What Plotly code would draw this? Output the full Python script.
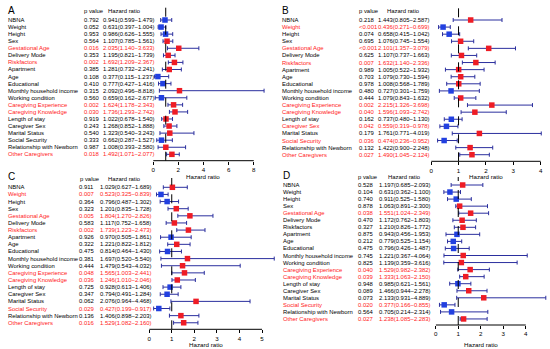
import plotly.graph_objects as go

labels = ["NBNA", "Weight", "Height", "Sex", "Gestational Age", "Delivery Mode", "Riskfactors",
          "Apartment", "Age", "Educational", "Monthly household income", "Working condition",
          "Caregiving Experience", "Caregiving Knowledge", "Length of stay", "Caregiver Sex",
          "Marital Status", "Social Security", "Relationship with Newborn", "Other Caregivers"]

A_p = ["0.792", "0.052", "0.953", "0.564", "0.016", "0.353", "0.002", "0.385", "0.108", "0.410",
       "0.315", "0.560", "0.002", "0.030", "0.919", "0.243", "0.540", "0.333", "0.987", "0.018"]
A_hr = [0.941, 0.631, 0.986, 1.107, 2.035, 1.195, 1.692, 1.281, 0.377, 0.777,
        2.092, 0.659, 1.624, 1.736, 1.022, 1.268, 1.323, 0.662, 1.008, 1.492]
A_lo = [0.599, 0.397, 0.626, 0.785, 1.140, 0.821, 1.209, 0.732, 0.115, 0.427,
        0.496, 0.162, 1.178, 1.293, 0.678, 0.852, 0.540, 0.287, 0.393, 1.071]
A_hi = [1.479, 1.004, 1.555, 1.561, 3.633, 1.739, 2.367, 2.241, 1.237, 1.416,
        8.818, 2.677, 2.343, 2.742, 1.540, 1.888, 3.243, 1.527, 2.580, 2.077]

B_p = ["0.218", "<0.001", "0.074", "0.695", "<0.001", "0.625", "0.007", "0.989", "0.703", "0.978",
       "0.480", "0.444", "0.002", "0.040", "0.162", "0.042", "0.179", "0.036", "0.132", "0.027"]
B_hr = [1.443, 0.436, 0.658, 1.076, 2.101, 1.107, 1.632, 1.005, 1.079, 1.008,
        0.727, 1.079, 2.215, 1.596, 0.737, 0.559, 1.761, 0.474, 1.422, 1.490]
B_lo = [0.805, 0.271, 0.415, 0.745, 1.357, 0.737, 1.140, 0.522, 0.730, 0.568,
        0.301, 0.843, 1.326, 1.093, 0.480, 0.319, 0.771, 0.236, 0.900, 1.045]
B_hi = [2.587, 0.699, 1.042, 1.554, 3.079, 1.663, 2.336, 1.932, 1.594, 1.789,
        1.759, 1.632, 3.698, 2.742, 1.130, 0.978, 4.019, 0.952, 2.248, 2.124]

C_p = ["0.911", "0.007", "0.364", "0.323", "0.005", "0.583", "0.002", "0.926", "0.322", "0.475",
       "0.381", "0.444", "0.048", "0.036", "0.725", "0.347", "0.062", "0.029", "0.136", "0.016"]
C_hr = [1.029, 0.523, 0.796, 1.201, 1.804, 1.117, 1.739, 0.970, 1.221, 0.814,
        1.697, 1.479, 1.565, 1.246, 0.928, 0.794, 2.076, 0.427, 1.406, 1.529]
C_lo = [0.627, 0.325, 0.487, 0.835, 1.270, 0.752, 1.223, 0.505, 0.822, 0.464,
        0.520, 0.543, 1.003, 1.010, 0.613, 0.491, 0.964, 0.199, 0.898, 1.082]
C_hi = [1.689, 0.839, 1.302, 1.728, 2.826, 1.658, 2.473, 1.861, 1.812, 1.430,
        5.540, 4.032, 2.441, 2.046, 1.406, 1.284, 4.468, 0.917, 2.203, 2.160]

D_p = ["0.528", "0.104", "0.740", "0.878", "0.038", "0.470", "0.327", "0.875", "0.212", "0.475",
       "0.745", "0.825", "0.040", "0.039", "0.948", "0.089", "0.073", "0.020", "0.564", "0.027"]
D_hr = [1.197, 0.631, 0.911, 1.063, 1.551, 1.172, 1.210, 0.943, 0.779, 0.796,
        1.221, 1.139, 1.529, 1.333, 0.985, 1.466, 2.133, 0.377, 0.705, 1.238]
D_lo = [0.685, 0.362, 0.525, 0.891, 1.024, 0.762, 0.826, 0.456, 0.525, 0.426,
        0.367, 0.359, 0.982, 1.063, 0.621, 0.944, 0.931, 0.166, 0.214, 1.085]
D_hi = [2.093, 1.100, 1.580, 2.300, 2.349, 1.803, 1.772, 1.953, 1.154, 1.487,
        4.064, 3.616, 2.382, 2.150, 1.561, 2.278, 4.889, 0.855, 2.314, 2.283]

x_ticks = {"A": [0, 2, 4, 6, 8], "B": [0, 1, 2, 3, 4], "C": [0, 1, 2, 3, 4, 5], "D": [0, 1, 2, 3, 4]}

W, H = 550, 349
FONT = "Liberation Sans, Arial, sans-serif"
RED_TXT = "#ff1a1a"
RED_MK = "#ee1c25"
BLUE_MK = "#2240e0"
WHISK = "#2b2f9e"
TXT_SIZE = 5.9

# layout geometry (pixels)
geo = {
    "A": dict(x0=151.7, unit=12.625, xmax=8.9, axis_end=8, first=20.0, step=7.07, top=7, bottom=160.7,
              lab=4, pcol=80, hcol=99, hp=80, hh=104, hy=11, lx=4, ly=10, title_y=176),
    "B": dict(x0=430.7, unit=27.5, xmax=4.1, axis_end=4, first=20.0, step=7.09, top=7, bottom=161.3,
              lab=279, pcol=356, hcol=375.7, hp=356, hh=384, hy=11, lx=279, ly=10, title_y=176.5),
    "C": dict(x0=147.7, unit=22.66, xmax=5.6, axis_end=5, first=187.3, step=7.13, top=178, bottom=329.3,
              lab=4, pcol=75, hcol=96.7, hp=76, hh=104, hy=179, lx=4, ly=176, title_y=344),
    "D": dict(x0=435.3, unit=22.6, xmax=4.95, axis_end=4, first=185.0, step=7.05, top=177, bottom=325,
              lab=280, pcol=355, hcol=376.7, hp=355, hh=385, hy=177, lx=280, ly=175, title_y=344),
}

data = {"A": (A_p, A_hr, A_lo, A_hi), "B": (B_p, B_hr, B_lo, B_hi),
        "C": (C_p, C_hr, C_lo, C_hi), "D": (D_p, D_hr, D_lo, D_hi)}


def sig(p):
    return p.startswith("<") or float(p) < 0.05


fig = go.Figure()
annotations = []
shapes = []
layout_axes = {}

for k, key in enumerate(["A", "B", "C", "D"]):
    g = geo[key]
    p, hr, lo, hi = data[key]
    n = k + 1
    xa = "x" if n == 1 else f"x{n}"
    ya = "y" if n == 1 else f"y{n}"
    xname = "xaxis" if n == 1 else f"xaxis{n}"
    yname = "yaxis" if n == 1 else f"yaxis{n}"
    rows = list(range(len(labels)))

    fig.add_trace(go.Scatter(
        x=hr, y=rows, xaxis=xa, yaxis=ya, mode="markers",
        marker=dict(symbol="square", size=5.5,
                    color=[RED_MK if v >= 1 else BLUE_MK for v in hr], line=dict(width=0)),
        error_x=dict(type="data", symmetric=False,
                     array=[h - v for h, v in zip(hi, hr)],
                     arrayminus=[v - l for v, l in zip(hr, lo)],
                     color=WHISK, thickness=1, width=2),
        cliponaxis=False, showlegend=False, hoverinfo="skip"))

    x_dom_end = g["x0"] + g["xmax"] * g["unit"]
    layout_axes[xname] = dict(
        domain=[g["x0"] / W, min(x_dom_end / W, 1.0)], range=[0, g["xmax"]], anchor=ya,
        showgrid=False, zeroline=False, showline=False, fixedrange=True,
        tickmode="array", tickvals=x_ticks[key], ticks="outside", ticklen=3, tickwidth=1,
        tickcolor="black", tickfont=dict(size=6.2, family=FONT, color="black"))
    ytop = (g["top"] - g["first"]) / g["step"]
    ybot = (g["bottom"] - g["first"]) / g["step"]
    layout_axes[yname] = dict(
        domain=[1 - g["bottom"] / H, 1 - g["top"] / H], range=[ybot, ytop], anchor=xa,
        visible=False, showgrid=False, zeroline=False, fixedrange=True)

    # reference line and axis baseline
    shapes.append(dict(type="line", xref=xa, yref=f"{ya} domain", x0=1, x1=1, y0=0, y1=1,
                       line=dict(color="black", width=1, dash="dash")))
    shapes.append(dict(type="line", xref=xa, yref=f"{ya} domain", x0=0, x1=g["axis_end"], y0=0, y1=0,
                       line=dict(color="black", width=1)))

    for i, lab in enumerate(labels):
        col = RED_TXT if sig(p[i]) else "black"
        f = dict(size=TXT_SIZE, family=FONT, color=col)
        annotations.append(dict(text=lab, x=g["lab"] / W, y=i, xref="paper", yref=ya,
                                xanchor="left", yanchor="middle", showarrow=False, font=f))
        annotations.append(dict(text=p[i], x=g["pcol"] / W, y=i, xref="paper", yref=ya,
                                xanchor="left", yanchor="middle", showarrow=False, font=f))
        txt = f"{hr[i]:.3f}({lo[i]:.3f}\u2212{hi[i]:.3f})"
        annotations.append(dict(text=txt, x=g["hcol"] / W, y=i, xref="paper", yref=ya,
                                xanchor="left", yanchor="middle", showarrow=False, font=f))

    hf = dict(size=TXT_SIZE, family=FONT, color="black")
    annotations.append(dict(text="p value", x=g["hp"] / W, y=1 - g["hy"] / H, xref="paper", yref="paper",
                            xanchor="left", yanchor="middle", showarrow=False, font=hf))
    annotations.append(dict(text="Hazard ratio", x=g["hh"] / W, y=1 - g["hy"] / H, xref="paper", yref="paper",
                            xanchor="left", yanchor="middle", showarrow=False, font=hf))
    annotations.append(dict(text=key, x=g["lx"] / W, y=1 - g["ly"] / H, xref="paper", yref="paper",
                            xanchor="left", yanchor="middle", showarrow=False,
                            font=dict(size=10, family=FONT, color="black")))
    annotations.append(dict(text="Hazard ratio", x=g["axis_end"] / 2, y=1 - g["title_y"] / H,
                            xref=xa, yref="paper", xanchor="center", yanchor="middle", showarrow=False,
                            font=dict(size=6.2, family=FONT, color="black")))

fig.update_layout(
    width=W, height=H, margin=dict(l=0, r=0, t=0, b=0),
    paper_bgcolor="white", plot_bgcolor="white", hovermode=False,
    annotations=annotations, shapes=shapes, **layout_axes)

fig.write_html("out.html", config={"displayModeBar": False, "staticPlot": True},
               post_script="document.body.style.margin='0px';")
